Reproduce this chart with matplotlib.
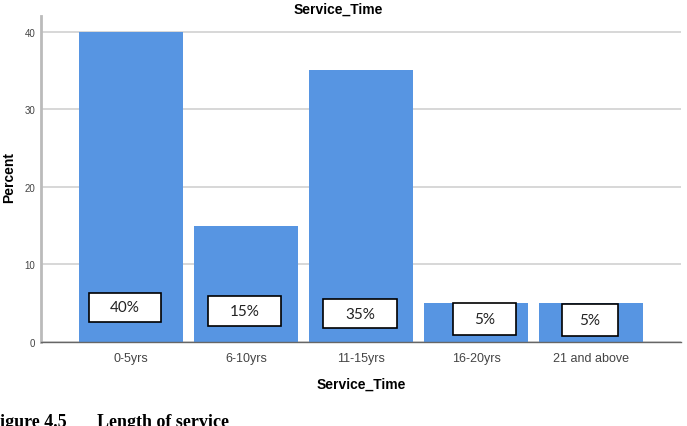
import numpy as np
import matplotlib.pyplot as plt
from matplotlib.patches import Rectangle

# dados
categorias = ['0-5yrs', '6-10yrs', '11-15yrs', '16-20yrs', '21 and above']
percentuais = [40, 15, 35, 5, 5]
rotulos = ['40%', '15%', '35%', '5%', '5%']
yticks = [0, 10, 20, 30, 40]

# caixas de rotulo (centro x, base, topo, largura) em unidades de dados
caixa_dx = [-0.05, -0.01, -0.01, 0.07, -0.01]
caixa_base = [2.6, 2.1, 1.8, 0.9, 0.8]
caixa_topo = [6.3, 5.9, 5.5, 5.0, 4.9]
caixa_larg = [0.63, 0.63, 0.64, 0.55, 0.48]

azul = '#5795e2'

fig = plt.figure(figsize=(6.87, 4.27), dpi=100)
ax = fig.add_axes([41/687, 1-343/427, 640/687, 326/427])

x = np.arange(len(categorias))
ax.bar(x, percentuais, width=0.905, color=azul, zorder=2)

for i in range(len(categorias)):
    cx = x[i] + caixa_dx[i]
    r = Rectangle((cx - caixa_larg[i]/2, caixa_base[i]), caixa_larg[i],
                  caixa_topo[i] - caixa_base[i], facecolor='white',
                  edgecolor='black', linewidth=1.2, zorder=3)
    ax.add_patch(r)
    ax.text(cx, (caixa_base[i] + caixa_topo[i])/2, rotulos[i], ha='center',
            va='center', fontsize=11, family='Lato', color='#222222', zorder=4)

ax.set_xlim(-0.78, 4.78)
ax.set_ylim(0, 42)
ax.set_yticks(yticks)
ax.set_xticks(x)
ax.set_xticklabels(categorias, fontsize=9, color='#444444', family='Liberation Sans')
ax.set_yticklabels([str(v) for v in yticks], fontsize=7, color='#444444',
                   family='Liberation Sans')
ax.tick_params(axis='both', length=0)
ax.tick_params(axis='x', pad=7)
ax.tick_params(axis='y', pad=4)
ax.yaxis.grid(True, color='#d4d4d4', linewidth=1.3, zorder=0)
ax.set_axisbelow(True)

for s in ['top', 'right']:
    ax.spines[s].set_visible(False)
ax.spines['left'].set_color('#bbbbbb')
ax.spines['left'].set_linewidth(2)
ax.spines['bottom'].set_color('#666666')
ax.spines['bottom'].set_linewidth(1)

ax.set_xlabel('Service_Time', fontsize=10, fontweight='bold', family='Liberation Sans',
              labelpad=9)
fig.text(9/687, 1-178/427, 'Percent', rotation=90, ha='center', va='center',
         fontsize=10, fontweight='bold', family='Liberation Sans')
fig.text(338/687, 1-10/427, 'Service_Time', ha='center', va='center', fontsize=10,
         fontweight='bold', family='Liberation Sans')

# legenda da figura, cortada na borda como no original
fig.text(-11/687, 0.0, 'Figure 4.5', ha='left', va='baseline', fontsize=13,
         fontweight='bold', family='Liberation Serif')
fig.text(97/687, 0.0, 'Length of service', ha='left', va='baseline', fontsize=13,
         fontweight='bold', family='Liberation Serif')

fig.savefig('out.png', dpi=100)
